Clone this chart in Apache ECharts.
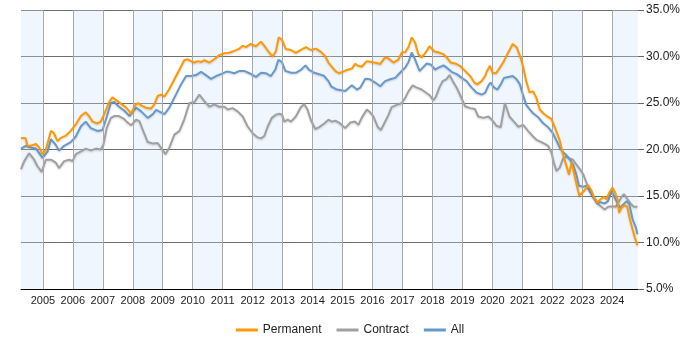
<!DOCTYPE html>
<html>
<head>
<meta charset="utf-8">
<script src="https://cdn.jsdelivr.net/npm/echarts@6/dist/echarts.min.js"></script>
<style>html,body{margin:0;padding:0;background:#fff}#c{width:700px;height:350px}</style>
</head>
<body>
<div id="c"></div>
<script>
// [decimal year, percent]
const permanent = [
[2004.27,21.25],[2004.43,21.2],[2004.48,20.4],[2004.60,20.4],[2004.77,20.6],[2004.88,20.2],[2004.99,19.5],
[2005.10,20.0],[2005.27,22.0],[2005.36,21.8],[2005.49,20.9],[2005.60,21.25],[2005.77,21.5],[2005.93,22.0],
[2006.10,22.7],[2006.27,23.6],[2006.43,24.0],[2006.54,23.6],[2006.66,23.0],[2006.82,22.8],[2006.93,23.0],
[2007.04,23.75],[2007.21,25.1],[2007.32,25.6],[2007.49,25.2],[2007.66,24.8],[2007.78,24.5],[2007.89,24.1],[2007.94,23.8],
[2008.06,24.7],[2008.17,25.0],[2008.28,24.75],[2008.44,24.5],[2008.61,24.4],[2008.72,24.85],[2008.83,25.75],[2008.94,25.9],
[2009.06,25.7],[2009.22,26.5],[2009.39,27.55],[2009.56,28.6],[2009.72,29.6],[2009.83,29.7],[2009.94,29.5],
[2010.06,29.35],[2010.17,29.5],[2010.28,29.4],[2010.39,29.6],[2010.56,29.35],[2010.72,29.7],[2010.89,30.15],
[2011.06,30.35],[2011.22,30.4],[2011.39,30.6],[2011.56,30.85],[2011.67,31.15],[2011.78,31.0],[2011.94,31.35],
[2012.11,31.1],[2012.28,31.6],[2012.39,31.15],[2012.56,30.4],[2012.67,30.0],[2012.78,30.6],[2012.87,32.05],[2012.98,31.8],
[2013.11,30.8],[2013.28,30.7],[2013.44,30.4],[2013.61,30.7],[2013.78,31.0],[2013.94,30.7],
[2014.11,30.85],[2014.28,30.5],[2014.42,30.05],[2014.53,29.35],[2014.62,29.0],[2014.76,28.45],[2014.87,28.2],
[2015.0,28.35],[2015.14,28.55],[2015.31,28.7],[2015.42,29.2],[2015.53,29.0],[2015.64,28.9],[2015.81,29.5],[2015.98,29.4],
[2016.14,29.3],[2016.26,29.2],[2016.42,29.9],[2016.53,29.8],[2016.70,29.35],[2016.87,29.7],[2016.98,30.45],
[2017.09,30.45],[2017.2,31.0],[2017.31,32.05],[2017.42,31.5],[2017.53,30.25],[2017.64,29.9],[2017.79,30.5],[2017.9,31.1],[2017.94,31.15],
[2018.09,30.5],[2018.2,30.45],[2018.37,30.25],[2018.48,29.9],[2018.61,29.35],[2018.76,29.25],[2018.92,29.0],
[2019.09,28.45],[2019.26,27.9],[2019.4,27.2],[2019.5,27.0],[2019.64,27.35],[2019.76,27.9],[2019.81,28.35],[2019.92,29.0],
[2020.01,28.25],[2020.12,28.2],[2020.23,28.7],[2020.37,29.4],[2020.5,30.25],[2020.68,31.35],[2020.81,31.0],[2020.94,29.9],
[2021.02,29.0],[2021.13,27.35],[2021.24,26.15],[2021.36,26.25],[2021.47,25.55],[2021.58,24.3],[2021.7,23.9],[2021.86,23.5],[2021.97,23.3],
[2022.11,22.2],[2022.25,20.95],[2022.34,19.7],[2022.42,18.8],[2022.49,18.05],[2022.56,17.3],[2022.64,18.6],[2022.69,17.95],[2022.77,16.8],[2022.9,15.05],
[2023.0,15.35],[2023.12,15.8],[2023.2,16.15],[2023.29,15.7],[2023.39,14.9],[2023.5,14.3],[2023.61,14.65],[2023.72,14.9],[2023.81,14.65],[2023.9,15.35],
[2024.01,15.9],[2024.1,15.35],[2024.17,14.7],[2024.23,13.2],[2024.31,13.75],[2024.42,14.0],[2024.5,13.85],[2024.59,12.5],[2024.68,11.4],[2024.76,10.5],[2024.84,9.7]
];
const contract = [
[2004.27,17.9],[2004.38,18.75],[2004.54,19.6],[2004.71,18.9],[2004.82,18.2],[2004.96,17.6],
[2005.10,18.9],[2005.27,18.9],[2005.43,18.6],[2005.54,18.0],[2005.71,18.75],[2005.88,18.9],[2005.99,18.75],
[2006.10,19.5],[2006.27,19.8],[2006.43,20.1],[2006.60,19.9],[2006.77,20.1],[2006.93,20.0],
[2007.02,20.5],[2007.13,22.3],[2007.27,23.4],[2007.38,23.6],[2007.54,23.6],[2007.71,23.3],[2007.78,23.05],[2007.94,22.6],
[2008.11,23.2],[2008.22,23.05],[2008.33,22.15],[2008.5,20.8],[2008.67,20.65],[2008.83,20.7],[2008.94,20.2],
[2009.09,19.5],[2009.22,20.2],[2009.39,21.6],[2009.56,22.0],[2009.72,23.25],[2009.89,25.0],
[2010.06,25.1],[2010.22,25.9],[2010.39,25.2],[2010.56,24.6],[2010.72,24.85],[2010.89,24.6],
[2011.06,24.6],[2011.17,24.3],[2011.33,24.45],[2011.5,24.1],[2011.67,23.55],[2011.83,22.5],
[2012.0,21.75],[2012.17,21.3],[2012.28,21.2],[2012.39,21.45],[2012.5,22.45],[2012.64,23.4],[2012.78,23.75],[2012.89,23.85],[2012.98,23.75],
[2013.06,23.0],[2013.17,23.2],[2013.28,23.0],[2013.44,23.55],[2013.61,24.55],[2013.72,24.9],[2013.83,24.3],[2013.94,23.2],
[2014.09,22.2],[2014.22,22.4],[2014.39,22.8],[2014.53,23.2],[2014.64,23.0],[2014.76,23.1],[2014.92,22.8],
[2015.09,22.3],[2015.26,22.9],[2015.42,23.0],[2015.53,22.65],[2015.64,23.4],[2015.81,24.3],[2015.92,24.0],
[2016.03,23.55],[2016.17,22.45],[2016.28,22.1],[2016.39,22.8],[2016.53,23.7],[2016.64,24.55],[2016.81,24.8],[2016.98,25.0],
[2017.09,25.55],[2017.2,26.25],[2017.34,26.9],[2017.48,26.65],[2017.64,26.45],[2017.79,26.1],[2017.92,25.8],
[2018.03,25.3],[2018.12,25.7],[2018.23,26.65],[2018.34,27.35],[2018.46,27.55],[2018.57,28.0],[2018.68,27.35],[2018.81,26.65],[2018.94,25.75],
[2019.09,24.65],[2019.26,24.45],[2019.42,24.35],[2019.53,23.55],[2019.7,23.4],[2019.87,23.55],[2019.98,23.2],
[2020.14,22.55],[2020.28,22.4],[2020.42,25.0],[2020.57,23.55],[2020.72,23.0],[2020.87,22.45],
[2021.03,22.65],[2021.19,22.0],[2021.36,21.4],[2021.49,21.0],[2021.64,20.8],[2021.75,20.6],[2021.86,20.4],[2021.97,19.7],
[2022.05,18.6],[2022.14,17.7],[2022.25,18.05],[2022.36,19.05],[2022.47,19.25],[2022.58,19.05],[2022.69,18.9],[2022.8,18.4],[2022.92,17.9],
[2023.03,17.35],[2023.14,16.45],[2023.25,15.55],[2023.36,15.0],[2023.5,14.2],[2023.64,13.85],[2023.75,13.55],[2023.86,13.85],
[2024.01,13.9],[2024.12,13.85],[2024.23,14.45],[2024.31,14.9],[2024.39,15.2],[2024.5,14.7],[2024.61,14.2],[2024.72,13.85],[2024.84,13.85]
];
const all = [
[2004.27,20.1],[2004.43,20.4],[2004.60,20.2],[2004.77,20.1],[2004.99,19.1],
[2005.16,19.8],[2005.27,21.1],[2005.43,20.5],[2005.54,19.9],[2005.71,20.4],[2005.93,20.8],
[2006.10,21.4],[2006.27,22.5],[2006.43,23.0],[2006.60,22.3],[2006.82,22.0],[2006.99,22.1],
[2007.10,23.2],[2007.27,25.0],[2007.38,25.1],[2007.54,24.6],[2007.71,24.2],[2007.89,23.6],[2007.94,23.6],
[2008.11,24.5],[2008.28,24.1],[2008.5,23.4],[2008.67,23.8],[2008.78,24.25],[2008.94,24.0],
[2009.06,23.8],[2009.22,24.5],[2009.44,25.9],[2009.61,27.0],[2009.78,27.9],[2009.94,27.9],
[2010.11,28.0],[2010.28,28.35],[2010.44,28.0],[2010.61,27.6],[2010.78,27.9],[2010.94,28.1],
[2011.11,28.35],[2011.22,28.35],[2011.39,28.2],[2011.56,28.45],[2011.72,28.45],[2011.89,28.2],
[2012.11,27.8],[2012.28,28.25],[2012.44,28.2],[2012.61,27.9],[2012.76,28.6],[2012.86,29.65],[2012.98,29.4],
[2013.09,28.45],[2013.28,28.25],[2013.44,28.25],[2013.61,28.55],[2013.76,29.05],[2013.89,28.55],
[2014.06,28.25],[2014.22,28.1],[2014.39,27.9],[2014.53,27.35],[2014.62,26.8],[2014.81,26.45],[2014.92,26.4],
[2015.09,26.3],[2015.31,26.9],[2015.48,26.45],[2015.59,26.65],[2015.76,27.6],[2015.92,27.55],
[2016.09,27.2],[2016.26,26.8],[2016.42,27.35],[2016.59,27.55],[2016.76,27.7],[2016.92,28.25],
[2017.09,28.8],[2017.2,29.4],[2017.31,30.45],[2017.42,29.7],[2017.57,28.45],[2017.68,28.8],[2017.81,29.25],[2017.94,29.15],
[2018.09,28.6],[2018.2,28.8],[2018.37,29.05],[2018.48,28.8],[2018.64,28.35],[2018.81,28.1],[2018.98,27.7],
[2019.14,27.35],[2019.31,26.65],[2019.48,26.1],[2019.64,25.9],[2019.76,26.1],[2019.87,26.9],[2019.94,27.2],
[2020.06,26.65],[2020.17,26.45],[2020.28,27.0],[2020.39,27.7],[2020.53,27.8],[2020.68,27.9],[2020.81,27.55],[2020.92,27.0],
[2021.02,25.9],[2021.13,24.8],[2021.24,24.35],[2021.36,23.9],[2021.52,23.5],[2021.69,22.85],[2021.86,22.4],
[2022.0,21.85],[2022.14,20.95],[2022.25,20.2],[2022.36,19.7],[2022.47,19.4],[2022.58,18.95],[2022.69,18.4],[2022.8,17.35],[2022.89,16.1],
[2023.03,16.0],[2023.14,16.1],[2023.25,15.55],[2023.36,14.9],[2023.5,14.35],[2023.64,14.3],[2023.75,14.2],[2023.86,14.45],[2023.98,15.55],
[2024.07,14.9],[2024.17,14.3],[2024.26,13.75],[2024.37,14.1],[2024.48,14.45],[2024.57,14.1],[2024.68,12.5],[2024.79,11.6],[2024.84,10.9]
];
const yearTicks = [2005,2006,2007,2008,2009,2010,2011,2012,2013,2014,2015,2016,2017,2018,2019,2020,2021,2022,2023,2024];
const bandYears = [2004,2006,2008,2010,2012,2014,2016,2018,2020,2022,2024];
const xMin = 2004.27, xMax = 2024.86;

const FONT = 'Liberation Sans, Arial, sans-serif';
const bands = bandYears.map(y => [{xAxis: Math.max(y, xMin)}, {xAxis: Math.min(y + 1, xMax)}]);
const vlines = yearTicks.map(y => ({xAxis: y}));

function lineSeries(name, data, color, z) {
  return {
    name, type: 'line', data, z, showSymbol: false, symbol: 'none', smooth: false,
    lineStyle: {color, width: 2, shadowColor: 'rgba(0,0,0,0.18)', shadowBlur: 2, shadowOffsetY: 1},
    itemStyle: {color}, emphasis: {disabled: true}, animation: false
  };
}

const chart = echarts.init(document.getElementById('c'), null, {renderer: 'canvas'});
chart.setOption({
  animation: false,
  textStyle: {fontFamily: FONT},
  grid: {left: 21, right: 62, top: 10, bottom: 61, containLabel: false},
  xAxis: {
    type: 'value', min: xMin, max: xMax,
    axisLine: {show: true, lineStyle: {color: '#000', width: 1}},
    axisTick: {show: false, customValues: yearTicks},
    axisLabel: {customValues: yearTicks, fontSize: 11, color: '#222', margin: 6, fontFamily: FONT, formatter: v => String(Math.round(v))},
    splitLine: {show: false}
  },
  yAxis: {
    type: 'value', position: 'right', min: 5, max: 35, interval: 5,
    axisLine: {show: false},
    axisTick: {show: true, length: 6, lineStyle: {color: '#666'}},
    axisLabel: {fontSize: 12, color: '#222', margin: 8, fontFamily: FONT, formatter: v => v.toFixed(1) + '%'},
    splitLine: {show: true, lineStyle: {color: '#6e6e6e', width: 1}}
  },
  legend: {
    top: 319, left: 'center', data: ['Permanent', 'Contract', 'All'],
    icon: 'rect', itemWidth: 22, itemHeight: 3, itemGap: 15,
    textStyle: {fontSize: 12, color: '#222', fontFamily: FONT, padding: [0, 0, 0, 0]}
  },
  series: [
    {
      name: 'bg', type: 'line', data: [], z: 1, silent: true,
      markArea: {silent: true, itemStyle: {color: 'rgba(205,225,252,0.3)'}, data: bands},
      markLine: {silent: true, symbol: 'none', label: {show: false},
        lineStyle: {color: '#a8a8a8', width: 1, type: 'solid'}, data: vlines, animation: false}
    },
    lineSeries('Contract', contract, '#A0A0A0', 3),
    lineSeries('All', all, '#6699CC', 4),
    lineSeries('Permanent', permanent, '#FF9900', 5)
  ]
});
</script>
</body>
</html>
